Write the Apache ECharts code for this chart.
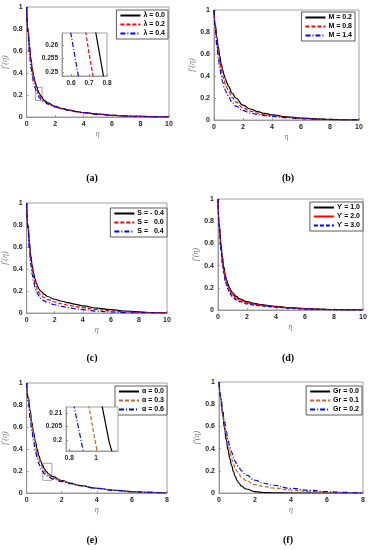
<!DOCTYPE html>
<html><head><meta charset="utf-8">
<script src="https://cdn.jsdelivr.net/npm/echarts@6/dist/echarts.min.js"></script>
<style>html,body{margin:0;padding:0;background:#fff}#c{width:374px;height:550px}</style>
</head><body><div id="c"></div>
<script>
// η grids
const etaA = [0,0.1,0.2,0.3,0.4,0.5,0.6,0.7,0.8,0.9,1,1.25,1.5,2,2.5,3,3.5,4,5,6,7,8,9,10];
const etaE = [0,0.1,0.2,0.3,0.4,0.5,0.6,0.7,0.8,0.9,1,1.1,1.25,1.5,2,2.5,3,4,5,6,7,8];

// (a) λ
const lam00 = [1,0.80,0.65,0.53,0.44,0.37,0.32,0.279,0.241,0.212,0.19,0.152,0.128,0.097,0.077,0.062,0.05,0.04,0.026,0.016,0.009,0.005,0.002,0];
const lam02 = [1,0.79,0.63,0.51,0.42,0.35,0.30,0.257,0.22,0.195,0.176,0.145,0.123,0.094,0.075,0.06,0.049,0.04,0.026,0.016,0.009,0.005,0.002,0];
const lam04 = [1,0.75,0.57,0.45,0.37,0.31,0.264,0.226,0.195,0.175,0.16,0.135,0.117,0.092,0.074,0.06,0.049,0.04,0.026,0.016,0.009,0.005,0.002,0];
// (b) M
const m02 = [1,0.86,0.75,0.66,0.58,0.51,0.455,0.41,0.37,0.335,0.305,0.245,0.2,0.135,0.1,0.077,0.06,0.047,0.029,0.018,0.01,0.005,0.002,0];
const m08 = [1,0.84,0.71,0.61,0.53,0.46,0.405,0.36,0.32,0.29,0.26,0.205,0.165,0.11,0.08,0.062,0.049,0.039,0.025,0.015,0.008,0.004,0.001,0];
const m14 = [1,0.81,0.67,0.56,0.47,0.4,0.345,0.3,0.265,0.235,0.21,0.16,0.127,0.085,0.063,0.05,0.04,0.032,0.021,0.013,0.007,0.003,0.001,0];
// (c) S
const sM04 = [1,0.8,0.64,0.52,0.43,0.36,0.31,0.27,0.24,0.215,0.2,0.17,0.15,0.125,0.107,0.092,0.078,0.065,0.045,0.03,0.018,0.01,0.004,0];
const s00 = [1,0.78,0.61,0.48,0.39,0.32,0.27,0.235,0.205,0.182,0.165,0.14,0.122,0.1,0.084,0.07,0.058,0.048,0.032,0.02,0.011,0.005,0.002,0];
const s04 = [1,0.75,0.57,0.44,0.35,0.28,0.235,0.2,0.172,0.15,0.133,0.11,0.094,0.075,0.06,0.048,0.038,0.03,0.017,0.009,0.004,0.001,0,0];
// (d) ϒ
const u10 = [1,0.76,0.6,0.48,0.39,0.32,0.27,0.23,0.2,0.175,0.155,0.122,0.1,0.075,0.06,0.048,0.039,0.032,0.021,0.013,0.008,0.004,0.002,0];
const u20 = [1,0.74,0.57,0.45,0.36,0.29,0.245,0.207,0.178,0.155,0.137,0.108,0.09,0.066,0.053,0.043,0.035,0.028,0.018,0.011,0.006,0.003,0.001,0];
const u30 = [1,0.72,0.54,0.42,0.33,0.265,0.22,0.185,0.157,0.135,0.118,0.092,0.076,0.056,0.045,0.036,0.03,0.025,0.016,0.01,0.005,0.002,0.001,0];
// (e) α
const a00 = [1,0.87,0.75,0.64,0.55,0.47,0.4,0.34,0.292,0.255,0.224,0.199,0.175,0.148,0.113,0.09,0.07,0.043,0.025,0.013,0.005,0];
const a03 = [1,0.85,0.72,0.61,0.51,0.43,0.36,0.305,0.26,0.225,0.198,0.178,0.158,0.136,0.108,0.087,0.068,0.042,0.024,0.012,0.005,0];
const a06 = [1,0.82,0.68,0.56,0.46,0.38,0.32,0.265,0.221,0.197,0.177,0.161,0.145,0.127,0.104,0.085,0.067,0.042,0.024,0.012,0.005,0];
// (f) Gr
const g00 = [1,0.85,0.71,0.59,0.48,0.39,0.31,0.25,0.195,0.15,0.115,0.09,0.062,0.036,0.012,0.004,0.001,0,0,0,0,0];
const g01 = [1,0.86,0.73,0.62,0.52,0.44,0.37,0.31,0.265,0.225,0.195,0.17,0.142,0.112,0.076,0.058,0.045,0.027,0.015,0.007,0.003,0];
const g02 = [1,0.87,0.75,0.65,0.56,0.48,0.42,0.37,0.32,0.285,0.255,0.23,0.2,0.162,0.115,0.088,0.07,0.042,0.024,0.012,0.005,0];

const namesA = ['λ = 0.0','λ = 0.2','λ = 0.4'];
const namesB = ['M = 0.2','M = 0.8','M = 1.4'];
const namesC = ['S = - 0.4','S =   0.0','S =   0.4'];
const namesD = ['ϒ = 1.0','ϒ = 2.0','ϒ = 3.0'];
const namesE = ['α = 0.0','α = 0.3','α = 0.6'];
const namesF = ['Gr = 0.0','Gr = 0.1','Gr = 0.2'];
const panelLabels = ['(a)','(b)','(c)','(d)','(e)','(f)'];
const insetAx = [0.6,0.7,0.8];
const insetAy = [0.25,0.255,0.26];
const insetEx = [0.8,1];
const insetEy = [0.2,0.205,0.21];

const BLK='#000', RED='#ff0000', BLU='#0000ff', ORG='#c8642a';
const SOLID='solid', DASH=[4,2], DASHDOT=[5,2,1,2];

const grids = [
  {left:24,top:7,width:145,height:110},
  {left:214,top:10,width:145,height:110},
  {left:23,top:203,width:144,height:110},
  {left:218,top:199,width:145,height:111},
  {left:23,top:383,width:144,height:110},
  {left:219,top:382,width:144,height:111},
  {left:62,top:33,width:45,height:43,z:5},
  {left:66,top:407,width:52,height:44,z:5}
].map(g=>Object.assign({show:true,borderColor:'#8c8c8c',borderWidth:0.8,backgroundColor:'#fff',containLabel:false},g));

const lblFont = {fontSize:7,fontWeight:'bold',fontFamily:'Liberation Sans',color:'#262626'};
function xAx(i,max){
  return {type:'value',gridIndex:i,min:0,max:max,interval:2,name:'η',nameLocation:'middle',nameGap:13,
    nameTextStyle:{fontSize:8,fontStyle:'italic',color:'#777',fontFamily:'Liberation Serif'},
    axisLine:{show:true,lineStyle:{color:'#8c8c8c',width:0.8}},
    axisTick:{show:true,inside:true,length:2,lineStyle:{color:'#8c8c8c',width:0.8}},
    axisLabel:Object.assign({margin:4},lblFont),splitLine:{show:false}};
}
function yAx(i){
  return {type:'value',gridIndex:i,min:0,max:1,interval:0.2,name:"f′(η)",nameLocation:'middle',nameGap:14,
    nameTextStyle:{fontSize:8,fontStyle:'italic',color:'#777',fontFamily:'Liberation Serif'},
    axisLine:{show:true,lineStyle:{color:'#8c8c8c',width:0.8}},
    axisTick:{show:true,inside:true,length:2,lineStyle:{color:'#8c8c8c',width:0.8}},
    axisLabel:Object.assign({margin:4},lblFont),splitLine:{show:false}};
}
function insetX(i,min,max,vals,fmt){
  return {type:'value',gridIndex:i,min:min,max:max,z:7,
    axisLine:{show:true,lineStyle:{color:'#8c8c8c',width:0.8}},
    axisTick:{show:true,inside:true,length:2,customValues:vals,lineStyle:{color:'#8c8c8c'}},
    axisLabel:Object.assign({margin:4,customValues:vals,formatter:fmt},lblFont,{fontSize:6.5}),splitLine:{show:false}};
}
function insetY(i,min,max,vals){
  return {type:'value',gridIndex:i,min:min,max:max,z:7,
    axisLine:{show:true,lineStyle:{color:'#8c8c8c',width:0.8}},
    axisTick:{show:true,inside:true,length:2,customValues:vals,lineStyle:{color:'#8c8c8c'}},
    axisLabel:Object.assign({margin:4,customValues:vals},lblFont,{fontSize:6.5}),splitLine:{show:false}};
}

const xAxes = [xAx(0,10),xAx(1,10),xAx(2,10),xAx(3,10),xAx(4,8),xAx(5,8),
  insetX(6,0.55,0.8,insetAx,v=>String(v)), insetX(7,0.775,1.165,insetEx,v=>String(v))];
const yAxes = [yAx(0),yAx(1),yAx(2),yAx(3),yAx(4),yAx(5),
  insetY(6,0.2485,0.2645,insetAy), insetY(7,0.196,0.2122,insetEy)];

const series = [];
function addLine(ax,name,eta,vals,color,type,z,smooth){
  series.push({type:'line',name:name,xAxisIndex:ax,yAxisIndex:ax,data:eta.map((x,k)=>[x,vals[k]]),
    symbol:'none',showSymbol:false,smooth:smooth,smoothMonotone:'x',clip:true,z:z||2,
    lineStyle:{color:color,width:1.2,type:type},itemStyle:{color:color},animation:false});
}
const panels = [
  [0,namesA,etaA,[lam00,lam02,lam04],[BLK,RED,BLU],[SOLID,DASH,DASHDOT]],
  [1,namesB,etaA,[m02,m08,m14],[BLK,RED,BLU],[SOLID,DASH,DASHDOT]],
  [2,namesC,etaA,[sM04,s00,s04],[BLK,RED,BLU],[SOLID,DASH,DASHDOT]],
  [3,namesD,etaA,[u10,u20,u30],[BLK,RED,BLU],[SOLID,SOLID,DASH]],
  [4,namesE,etaE,[a00,a03,a06],[BLK,ORG,BLU],[SOLID,DASH,DASHDOT]],
  [5,namesF,etaE,[g00,g01,g02],[BLK,ORG,BLU],[SOLID,DASH,DASHDOT]]
];
panels.forEach(p=>{ for(let k=0;k<3;k++) addLine(p[0],p[1][k],p[2],p[3][k],p[4][k],p[5][k],2,true); });
// insets (straight segments)
for(let k=0;k<3;k++) addLine(6,namesA[k],etaA,panels[0][3][k],panels[0][4][k],panels[0][5][k],6,false);
for(let k=0;k<3;k++) addLine(7,namesE[k],etaE,panels[4][3][k],panels[4][4][k],panels[4][5][k],6,false);
// zoom rectangles
series[0].markArea = {silent:true,itemStyle:{color:'rgba(0,0,0,0)',borderColor:'#8c8c8c',borderWidth:0.8},
  data:[[{coord:[0.62,0.15]},{coord:[1.08,0.27]}]]};
series[12].markArea = {silent:true,itemStyle:{color:'rgba(0,0,0,0)',borderColor:'#8c8c8c',borderWidth:0.8},
  data:[[{coord:[0.92,0.115]},{coord:[1.44,0.27]}]]};

const legendPos = [[206,10],[19,12],[207,208],[11,202],[207,386],[12,386]];
const allNames = [namesA,namesB,namesC,namesD,namesE,namesF];
const legends = allNames.map((n,i)=>({data:n,orient:'vertical',right:legendPos[i][0],top:legendPos[i][1],
  backgroundColor:'#fff',borderColor:'#333',borderWidth:0.8,padding:[2,3,2,3],itemGap:2,itemWidth:20,itemHeight:6,
  itemStyle:{opacity:0,borderWidth:0},
  textStyle:{fontSize:7,fontWeight:'bold',fontFamily:'Liberation Sans',color:'#000',padding:[0,0,0,-2]},selectedMode:false}));

const labelPos = [[92,178],[288,178],[92,358],[288,358],[92,540],[288,540]];
const graphics = panelLabels.map((t,i)=>({type:'text',x:labelPos[i][0],y:labelPos[i][1],
  style:{text:t,font:'bold 10px "Liberation Serif"',fill:'#000',align:'center',verticalAlign:'middle'}}));

const chart = echarts.init(document.getElementById('c'),null,{renderer:'canvas'});
chart.setOption({animation:false,grid:grids,xAxis:xAxes,yAxis:yAxes,series:series,legend:legends,graphic:graphics});
</script></body></html>
